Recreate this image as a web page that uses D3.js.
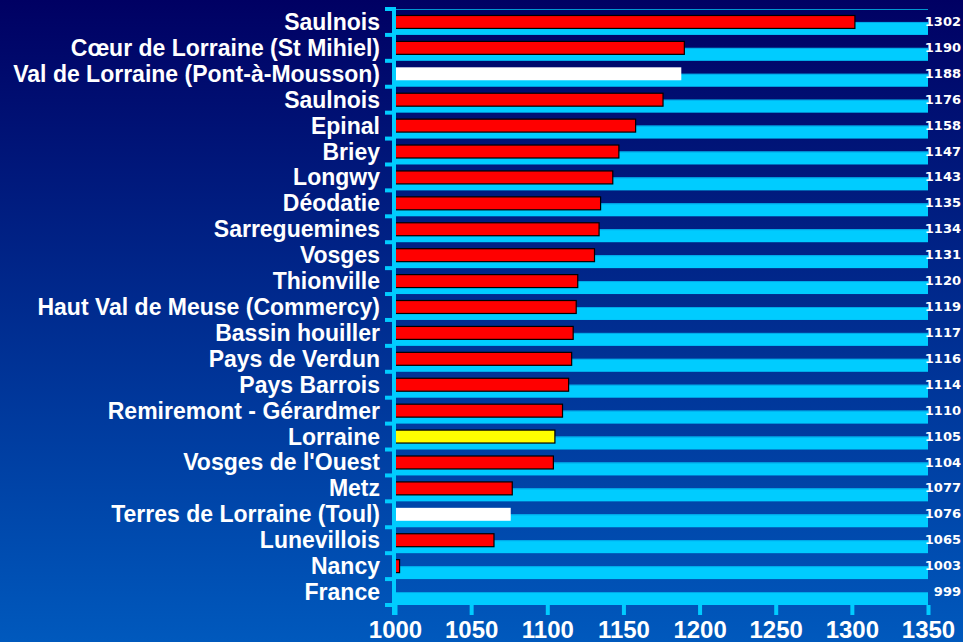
<!DOCTYPE html>
<html>
<head>
<meta charset="utf-8">
<script src="https://cdn.jsdelivr.net/npm/d3@7"></script>
<style>
  html, body { margin: 0; padding: 0; }
  body { width: 963px; height: 642px; overflow: hidden; }
</style>
</head>
<body>
<div id="chart"></div>
<script>
// territoires, du plus haut au plus bas
const territoires = [
    'Saulnois', 'Cœur de Lorraine (St Mihiel)', 'Val de Lorraine (Pont-à-Mousson)', 'Saulnois',
    'Epinal', 'Briey', 'Longwy', 'Déodatie', 'Sarreguemines', 'Vosges', 'Thionville',
    'Haut Val de Meuse (Commercy)', 'Bassin houiller', 'Pays de Verdun', 'Pays Barrois',
    'Remiremont - Gérardmer', 'Lorraine', "Vosges de l'Ouest", 'Metz',
    'Terres de Lorraine (Toul)', 'Lunevillois', 'Nancy', 'France'
];
const valeurs = [1302, 1190, 1188, 1176, 1158, 1147, 1143, 1135, 1134, 1131, 1120,
    1119, 1117, 1116, 1114, 1110, 1105, 1104, 1077, 1076, 1065, 1003, 999];
// couleur de chaque barre
const couleurs = ['red', 'red', 'white', 'red', 'red', 'red', 'red', 'red', 'red', 'red', 'red',
    'red', 'red', 'red', 'red', 'red', 'yellow', 'red', 'red', 'white', 'red', 'red', 'red'];
// barre de fond (série cyan)
const fond = territoires.map(() => 1350);
const xTicks = [1000, 1050, 1100, 1150, 1200, 1250, 1300, 1350];

const width = 963, height = 642;
const margin = { top: 9, right: 35, bottom: 37, left: 395 };

const svg = d3.select('#chart').append('svg')
    .attr('width', width)
    .attr('height', height);

// dégradé du fond
const grad = svg.append('defs').append('linearGradient')
    .attr('id', 'bg').attr('x1', 0).attr('y1', 0).attr('x2', 0).attr('y2', 1);
grad.append('stop').attr('offset', '0%').attr('stop-color', '#000063');
grad.append('stop').attr('offset', '100%').attr('stop-color', '#0059bd');
svg.append('rect').attr('width', width).attr('height', height).attr('fill', 'url(#bg)');

const x = d3.scaleLinear().domain([1000, 1350]).range([margin.left, width - margin.right]);
const y = d3.scaleBand().domain(d3.range(territoires.length))
    .range([margin.top, height - margin.bottom]);
const bw = y.bandwidth();

svg.append('clipPath').attr('id', 'plot').append('rect')
    .attr('x', margin.left).attr('y', 0)
    .attr('width', width - margin.right - margin.left).attr('height', height);

const plot = svg.append('g').attr('clip-path', 'url(#plot)');

// ligne du haut
plot.append('line')
    .attr('x1', x(1000)).attr('x2', x(1350))
    .attr('y1', margin.top + 0.5).attr('y2', margin.top + 0.5)
    .attr('stroke', '#0096d0').attr('stroke-width', 1);

// barres cyan
plot.selectAll('rect.fond').data(fond).join('rect')
    .attr('class', 'fond')
    .attr('x', x(1000))
    .attr('y', (d, i) => y(i) + bw * 0.5)
    .attr('width', d => x(d) - x(1000))
    .attr('height', bw * 0.5)
    .attr('fill', '#00ccff');
plot.selectAll('line.bord').data(fond).join('line')
    .attr('class', 'bord')
    .attr('x1', x(1000)).attr('x2', d => x(d))
    .attr('y1', (d, i) => y(i) + bw * 0.5 + 0.5)
    .attr('y2', (d, i) => y(i) + bw * 0.5 + 0.5)
    .attr('stroke', '#00a8e8');

// barres des valeurs
plot.selectAll('rect.val').data(valeurs).join('rect')
    .attr('class', 'val')
    .attr('x', x(1000))
    .attr('y', (d, i) => y(i) + bw * 0.25)
    .attr('width', d => Math.max(0, x(d) - x(1000)))
    .attr('height', bw * 0.5)
    .attr('fill', (d, i) => couleurs[i])
    .attr('stroke', (d, i) => couleurs[i] === 'white' ? 'none' : 'black')
    .attr('stroke-width', 1.2);

// axe vertical
svg.append('line')
    .attr('x1', x(1000) - 1).attr('x2', x(1000) - 1)
    .attr('y1', margin.top - 2).attr('y2', height - margin.bottom + 10)
    .attr('stroke', '#00ccff').attr('stroke-width', 4);
svg.selectAll('line.ytick').data(d3.range(territoires.length + 1)).join('line')
    .attr('class', 'ytick')
    .attr('x1', x(1000) - 10).attr('x2', x(1000))
    .attr('y1', i => margin.top + i * bw)
    .attr('y2', i => margin.top + i * bw)
    .attr('stroke', '#00ccff').attr('stroke-width', 4);

// axe horizontal
const xAxis = svg.append('g')
    .attr('transform', `translate(0,${height - margin.bottom})`)
    .call(d3.axisBottom(x).tickValues(xTicks).tickSize(10).tickPadding(6).tickFormat(d3.format('d')));
xAxis.select('.domain').remove();
xAxis.selectAll('.tick line').attr('stroke', '#00ccff').attr('stroke-width', 4);
xAxis.selectAll('.tick text')
    .attr('fill', 'white')
    .style('font-family', '"Liberation Sans", Arial, sans-serif')
    .style('font-weight', 'bold')
    .style('font-size', '24px');

// noms des territoires
svg.selectAll('text.nom').data(territoires).join('text')
    .attr('class', 'nom')
    .attr('x', 380)
    .attr('y', (d, i) => y(i) + bw / 2 + 8)
    .attr('text-anchor', 'end')
    .attr('fill', 'white')
    .style('font-family', '"Liberation Sans", Arial, sans-serif')
    .style('font-weight', 'bold')
    .style('font-size', '23px')
    .text(d => d);

// valeurs à droite
svg.selectAll('text.valeur').data(valeurs).join('text')
    .attr('class', 'valeur')
    .attr('x', 961)
    .attr('y', (d, i) => y(i) + 17)
    .attr('text-anchor', 'end')
    .attr('fill', 'white')
    .style('font-family', '"DejaVu Sans", Verdana, sans-serif')
    .style('font-weight', 'bold')
    .style('font-size', '13px')
    .text(d => d);
</script>
</body>
</html>
